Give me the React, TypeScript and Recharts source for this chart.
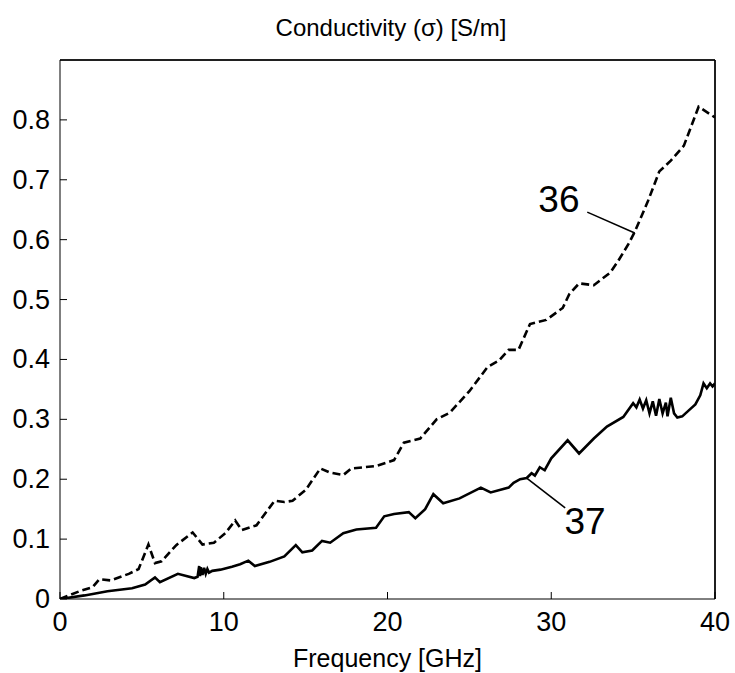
import React from 'react';
import {
  LineChart,
  Line,
  XAxis,
  YAxis,
  ReferenceLine,
  ReferenceDot
} from 'recharts';

// curve 36 (dashed)
const freq36 = [
  0, 1.2, 2.0, 2.4, 3.1, 4.2, 4.8, 5.4, 5.8, 6.2, 7.1, 8.1, 8.7, 9.4, 10.1, 10.7, 11.1, 12.0,
  13.1, 13.7, 14.2, 15.0, 15.9, 16.5, 17.3, 17.8, 19.3, 20.4, 21.0, 22.0, 23.0, 23.8, 25.0,
  26.1, 26.8, 27.4, 28.0, 28.7, 29.7, 30.7, 31.1, 31.7, 32.6, 33.6, 34.1, 34.7, 35.1, 35.9,
  36.6, 37.3, 38.1, 39.0, 40.0
];
const sigma36 = [
  0, 0.013, 0.02, 0.033, 0.031, 0.042, 0.05, 0.091, 0.06, 0.063, 0.09, 0.111, 0.091, 0.094,
  0.11, 0.131, 0.115, 0.123, 0.164, 0.162, 0.164, 0.182, 0.218, 0.211, 0.207, 0.218, 0.222,
  0.232, 0.261, 0.268, 0.3, 0.311, 0.347, 0.387, 0.398, 0.416, 0.416, 0.459, 0.466, 0.486,
  0.509, 0.527, 0.524, 0.545, 0.565, 0.592, 0.613, 0.664, 0.714, 0.732, 0.757, 0.822, 0.804
];

// curve 37 (solid)
const freq37 = [
  0, 1.5, 2.9, 4.4, 5.2, 5.8, 6.1, 7.2, 8.2, 8.4, 8.5, 8.55, 8.6, 8.7, 8.8, 8.9, 9.0, 9.1,
  9.3, 9.8, 10.5, 11.0, 11.5, 11.9, 12.8, 13.7, 14.4, 14.8, 15.4, 16.0, 16.5, 17.3, 18.1,
  19.3, 19.8, 20.4, 21.3, 21.7, 22.3, 22.8, 23.4, 24.4, 25.7, 26.3, 27.4, 27.7, 28.1, 28.5,
  28.8, 29.0, 29.3, 29.6, 30.0, 31.0, 31.7, 32.6, 33.4, 34.4, 35.0, 35.2, 35.4, 35.6, 35.8,
  36.0, 36.2, 36.4, 36.6, 36.8, 37.0, 37.1, 37.3, 37.5, 37.7, 38.0, 38.4, 38.8, 39.1, 39.3,
  39.5, 39.7, 39.85, 40.0
];
const sigma37 = [
  0, 0.006, 0.013, 0.018, 0.024, 0.036, 0.028, 0.042, 0.035, 0.037, 0.055, 0.038, 0.053, 0.04,
  0.052, 0.042, 0.05, 0.044, 0.047, 0.049, 0.054, 0.058, 0.064, 0.055, 0.062, 0.071, 0.09,
  0.078, 0.081, 0.097, 0.094, 0.11, 0.116, 0.119, 0.138, 0.142, 0.145, 0.135, 0.15, 0.175,
  0.16, 0.168, 0.186, 0.178, 0.186, 0.194, 0.2, 0.202, 0.21, 0.206, 0.22, 0.215, 0.235,
  0.265, 0.243, 0.268, 0.288, 0.304, 0.327, 0.32, 0.333, 0.318, 0.332, 0.31, 0.33, 0.306,
  0.334, 0.31, 0.328, 0.305, 0.336, 0.31, 0.303, 0.305, 0.315, 0.325, 0.34, 0.36, 0.352,
  0.36, 0.355, 0.36, 0.333
];

const xTicks = [0, 10, 20, 30, 40];
const yTicks = [0, 0.1, 0.2, 0.3, 0.4, 0.5, 0.6, 0.7, 0.8];

const data36 = freq36.map((f, i) => ({ f, s: sigma36[i] }));
const data37 = freq37.map((f, i) => ({ f, s: sigma37[i] }));

const FONT = '"Liberation Sans", Arial, Helvetica, sans-serif';

const XTick = ({ x, y, payload }: any) => (
  <text x={x} y={y} dy={21} textAnchor="middle" fontSize={27} fontFamily={FONT} fill="#000">
    {payload.value}
  </text>
);

const YTick = ({ x, y, payload }: any) => (
  <text x={x} y={y} dy={9} textAnchor="end" fontSize={27} fontFamily={FONT} fill="#000">
    {payload.value === 0 ? '0' : String(payload.value)}
  </text>
);

const App = () => {
  return (
    <div style={{ position: 'absolute', left: 0, top: 0, width: 735, height: 673, background: '#fff' }}>
      <div
        style={{
          position: 'absolute',
          left: 0,
          top: 13,
          width: 782,
          textAlign: 'center',
          fontFamily: FONT,
          fontSize: 24,
          lineHeight: '30px',
          color: '#000'
        }}
      >
        Conductivity (σ) [S/m]
      </div>
      <LineChart width={735} height={673} margin={{ top: 59, right: 19, left: 0, bottom: 0 }}>
        <XAxis
          xAxisId="b"
          type="number"
          dataKey="f"
          domain={[0, 40]}
          ticks={xTicks}
          allowDataOverflow
          height={74}
          stroke="#000"
          tickSize={-7}
          tickMargin={18}
          tick={<XTick />}
          label={{
            value: 'Frequency [GHz]',
            position: 'insideBottom',
            offset: 6,
            style: { fontSize: 25, fill: '#000', fontFamily: FONT }
          }}
        />
        <XAxis
          xAxisId="t"
          orientation="top"
          type="number"
          dataKey="f"
          domain={[0, 40]}
          ticks={xTicks}
          height={1}
          stroke="#000"
          tickSize={-7}
          tick={false}
        />
        <YAxis
          yAxisId="l"
          type="number"
          domain={[0, 0.9]}
          ticks={yTicks}
          allowDataOverflow
          width={60}
          stroke="#000"
          tickSize={-7}
          tickMargin={17}
          tick={<YTick />}
        />
        <YAxis
          yAxisId="r"
          orientation="right"
          type="number"
          domain={[0, 0.9]}
          ticks={yTicks}
          width={1}
          stroke="#000"
          tickSize={-7}
          tick={false}
        />
        <ReferenceLine xAxisId="b" yAxisId="l" y={0.9} stroke="#000" strokeWidth={1.5} />
        <ReferenceLine xAxisId="b" yAxisId="l" x={40} stroke="#000" strokeWidth={1.5} />
        <Line
          xAxisId="b"
          yAxisId="l"
          data={data36}
          dataKey="s"
          type="linear"
          stroke="#000"
          strokeWidth={2.6}
          strokeDasharray="8 4"
          dot={false}
          isAnimationActive={false}
        />
        <Line
          xAxisId="b"
          yAxisId="l"
          data={data37}
          dataKey="s"
          type="linear"
          stroke="#000"
          strokeWidth={2.6}
          dot={false}
          isAnimationActive={false}
        />
        <ReferenceLine
          xAxisId="b"
          yAxisId="l"
          segment={[{ x: 32.2, y: 0.646 }, { x: 35.1, y: 0.611 }]}
          stroke="#000"
          strokeWidth={1.6}
        />
        <ReferenceLine
          xAxisId="b"
          yAxisId="l"
          segment={[{ x: 28.5, y: 0.202 }, { x: 30.85, y: 0.152 }]}
          stroke="#000"
          strokeWidth={1.6}
        />
        <ReferenceDot
          xAxisId="b"
          yAxisId="l"
          x={30.47}
          y={0.668}
          r={1}
          fill="none"
          stroke="none"
          label={{ value: '36', position: 'center', style: { fontSize: 37, fill: '#000', fontFamily: FONT } }}
        />
        <ReferenceDot
          xAxisId="b"
          yAxisId="l"
          x={32.06}
          y={0.13}
          r={1}
          fill="none"
          stroke="none"
          label={{ value: '37', position: 'center', style: { fontSize: 37, fill: '#000', fontFamily: FONT } }}
        />
      </LineChart>
    </div>
  );
};

export default App;
